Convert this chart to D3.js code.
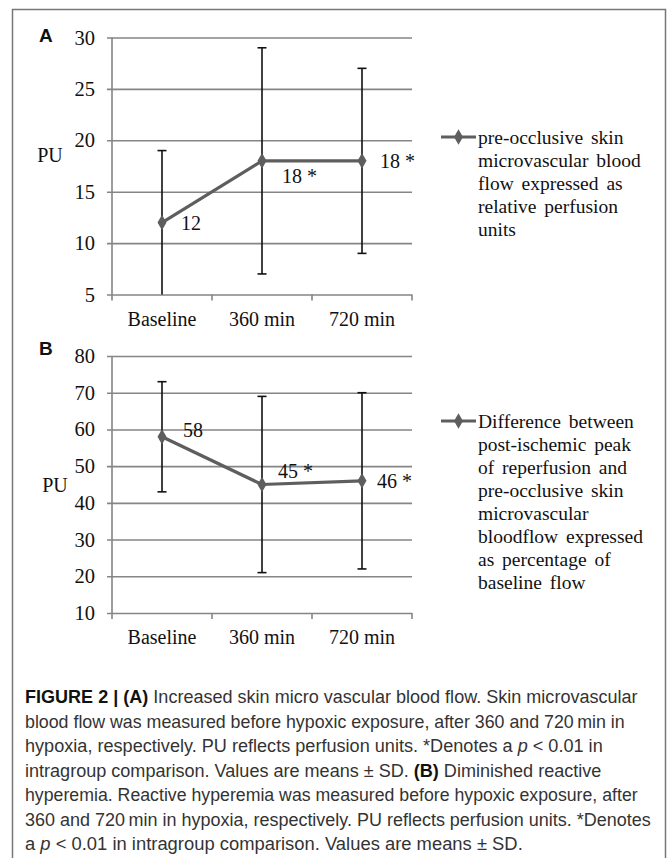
<!DOCTYPE html>
<html><head><meta charset="utf-8">
<script src="https://cdn.jsdelivr.net/npm/d3@7"></script>
<style>
html,body{margin:0;padding:0;background:#fff;}
svg{display:block;}
</style></head>
<body>
<script>
// ---- data ----
const categories = ["Baseline", "360 min", "720 min"];
const meansA = [12, 18, 18];
const sdA = [7, 11, 9];
const labelsA = ["12", "18 *", "18 *"];
const ticksA = [5, 10, 15, 20, 25, 30];
const legendA = ["pre-occlusive skin", "microvascular blood", "flow expressed as", "relative perfusion", "units"];

const meansB = [58, 45, 46];
const sdB = [15, 24, 24];
const labelsB = ["58", "45 *", "46 *"];
const ticksB = [10, 20, 30, 40, 50, 60, 70, 80];
const legendB = ["Difference between", "post-ischemic peak", "of reperfusion and", "pre-occlusive skin", "microvascular", "bloodflow expressed", "as percentage of", "baseline flow"];

const captionLines = [
  [["b","FIGURE 2 | (A)"],["n"," Increased skin micro vascular blood flow. Skin microvascular"]],
  [["n","blood flow was measured before hypoxic exposure, after 360 and 720\u2009min in"]],
  [["n","hypoxia, respectively. PU reflects perfusion units. *Denotes a "],["i","p"],["n"," < 0.01 in"]],
  [["n","intragroup comparison. Values are means \u00b1 SD. "],["b","(B)"],["n"," Diminished reactive"]],
  [["n","hyperemia. Reactive hyperemia was measured before hypoxic exposure, after"]],
  [["n","360 and 720\u2009min in hypoxia, respectively. PU reflects perfusion units. *Denotes"]],
  [["n","a "],["i","p"],["n"," < 0.01 in intragroup comparison. Values are means \u00b1 SD."]]
];

// ---- drawing ----
const W = 667, H = 858;
const svg = d3.select("body").append("svg").attr("width", W).attr("height", H);
const serif = "'Liberation Serif','Times New Roman',serif";
const sans = "'Liberation Sans',Arial,sans-serif";
const lineCol = "#5e5e5e";
const gridCol = "#858585";

// frame
svg.append("path")
  .attr("d", `M12.5,${H+2} V9.5 H665.5 V${H+2}`)
  .attr("fill", "none").attr("stroke", "#777").attr("stroke-width", 1.5);

function panel(cfg) {
  const x = d3.scaleBand().domain(categories).range([112, 412]);
  const y = d3.scaleLinear().domain(cfg.domain).range(cfg.yRange);
  const g = svg.append("g");

  // gridlines + y ticks
  const yAxis = d3.axisLeft(y).tickValues(cfg.ticks).tickSize(-305).tickSizeOuter(0).tickPadding(12);
  const ga = g.append("g").attr("transform", "translate(107,0)").call(yAxis);
  ga.select(".domain").remove();
  ga.selectAll(".tick line").attr("stroke", gridCol).attr("stroke-width", 1.6);
  ga.selectAll(".tick text").attr("font-family", serif).attr("font-size", 20.5).attr("fill", "#111");

  // y axis line
  g.append("line").attr("x1", 112).attr("x2", 112)
    .attr("y1", cfg.yRange[1]).attr("y2", cfg.yRange[0])
    .attr("stroke", gridCol).attr("stroke-width", 1.6);

  // x axis
  const xAxis = d3.axisBottom(x).tickSize(0).tickPadding(17);
  const gx = g.append("g").attr("transform", `translate(0,${cfg.yRange[0]})`).call(xAxis);
  gx.select(".domain").remove();
  gx.selectAll(".tick text").attr("font-family", serif).attr("font-size", 20).attr("fill", "#111");
  const bounds = [0, 1, 2, 3].map(i => 112 + i * x.step());
  g.selectAll(".xt").data(bounds).enter().append("line")
    .attr("x1", d => d).attr("x2", d => d)
    .attr("y1", cfg.yRange[0]).attr("y2", cfg.yRange[0] + 6)
    .attr("stroke", gridCol).attr("stroke-width", 1.6);

  const cx = c => x(c) + x.bandwidth() / 2;
  const dMin = cfg.domain[0];

  // error bars
  categories.forEach((c, i) => {
    const lo = cfg.means[i] - cfg.sd[i], hi = cfg.means[i] + cfg.sd[i];
    const loC = Math.max(lo, dMin);
    g.append("line").attr("x1", cx(c)).attr("x2", cx(c))
      .attr("y1", y(hi)).attr("y2", y(loC)).attr("stroke", "#111").attr("stroke-width", 1.6);
    g.append("line").attr("x1", cx(c) - 4.5).attr("x2", cx(c) + 4.5)
      .attr("y1", y(hi)).attr("y2", y(hi)).attr("stroke", "#111").attr("stroke-width", 1.6);
    if (lo > dMin) {
      g.append("line").attr("x1", cx(c) - 4.5).attr("x2", cx(c) + 4.5)
        .attr("y1", y(lo)).attr("y2", y(lo)).attr("stroke", "#111").attr("stroke-width", 1.6);
    }
  });

  // line
  const line = d3.line().x((d, i) => cx(categories[i])).y(d => y(d));
  g.append("path").datum(cfg.means).attr("d", line)
    .attr("fill", "none").attr("stroke", lineCol).attr("stroke-width", 3.2);

  const diamond = d3.symbol().type(d3.symbolDiamond).size(70);
  g.selectAll(".pt").data(cfg.means).enter().append("path")
    .attr("d", diamond)
    .attr("transform", (d, i) => `translate(${cx(categories[i])},${y(d)})`)
    .attr("fill", lineCol);

  // point labels
  g.selectAll(".pl").data(cfg.labels).enter().append("text")
    .attr("x", (d, i) => cx(categories[i]) + cfg.labelOff[i][0])
    .attr("y", (d, i) => y(cfg.means[i]) + cfg.labelOff[i][1])
    .attr("dy", "0.35em")
    .attr("font-family", serif).attr("font-size", 20).attr("fill", "#111")
    .text(d => d);

  // PU label
  g.append("text").attr("x", cfg.puPos[0]).attr("y", cfg.puPos[1]).attr("dy", "0.35em")
    .attr("text-anchor", "middle").attr("font-family", serif).attr("font-size", 20).attr("fill", "#111")
    .text("PU");

  // panel letter
  g.append("text").attr("x", cfg.letterPos[0]).attr("y", cfg.letterPos[1])
    .attr("font-family", sans).attr("font-weight", "bold").attr("font-size", 19).attr("fill", "#111")
    .text(cfg.letter);

  // legend
  const ly = cfg.legendY;
  g.append("line").attr("x1", 441).attr("x2", 476).attr("y1", ly).attr("y2", ly)
    .attr("stroke", lineCol).attr("stroke-width", 3.2);
  g.append("path").attr("d", diamond).attr("transform", `translate(458.5,${ly})`).attr("fill", lineCol);
  g.selectAll(".lg").data(cfg.legend).enter().append("text")
    .attr("x", 478).attr("y", (d, i) => ly + i * 23).attr("dy", "0.35em")
    .attr("font-family", serif).attr("font-size", 19.5).attr("fill", "#111")
    .attr("word-spacing", 3)
    .text(d => d);
}

panel({
  domain: [5, 30], yRange: [294.5, 37.5], ticks: ticksA,
  means: meansA, sd: sdA, labels: labelsA,
  labelOff: [[19, 0], [20, 15], [18, 0]],
  puPos: [50, 155], letterPos: [39, 42], letter: "A",
  legendY: 137, legend: legendA
});

panel({
  domain: [10, 80], yRange: [613, 356], ticks: ticksB,
  means: meansB, sd: sdB, labels: labelsB,
  labelOff: [[21, -7], [16, -14], [15, 0]],
  puPos: [55, 485], letterPos: [39, 355], letter: "B",
  legendY: 421, legend: legendB
});

// caption (each line horizontally condensed to the reference width)
const capEnds = [638, 625, 603, 602, 638, 651, 523];
const capX = 25;
captionLines.forEach((parts, i) => {
  const t = svg.append("text")
    .attr("x", 0).attr("y", 0).attr("dy", "0.35em")
    .attr("font-family", "'Liberation Sans Narrow','Liberation Sans',Arial,sans-serif")
    .attr("font-size", 18.5).attr("fill", "#333");
  parts.forEach(p => {
    const s = t.append("tspan").text(p[1]);
    if (p[0] === "b") s.attr("font-weight", "bold").attr("fill", "#111");
    if (p[0] === "i") s.attr("font-style", "italic");
  });
  const nat = t.node().getComputedTextLength();
  const sx = (capEnds[i] - capX) / nat;
  t.attr("transform", `translate(${capX},${697 + i * 24.5}) scale(${sx},1)`);
});
</script>
</body></html>
